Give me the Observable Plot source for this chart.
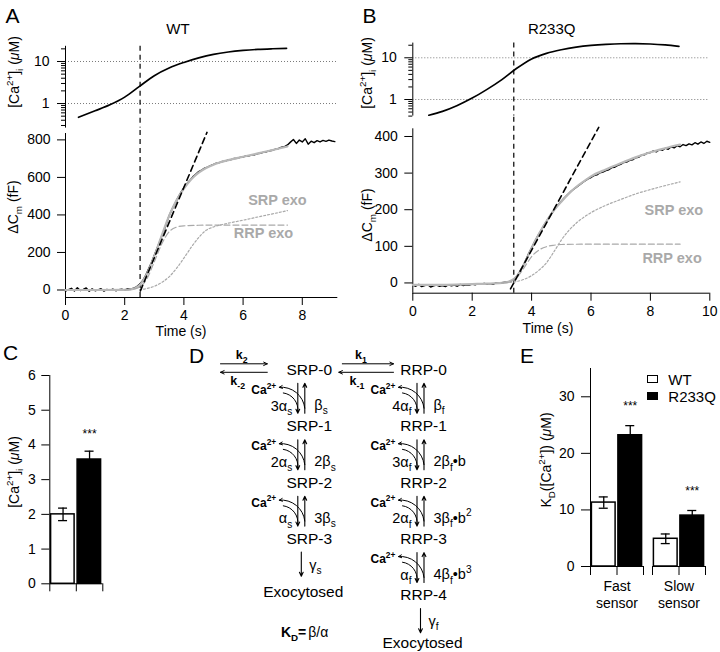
<!DOCTYPE html>
<html><head><meta charset="utf-8">
<script src="https://cdn.jsdelivr.net/npm/d3@7"></script>
<script src="https://cdn.jsdelivr.net/npm/@observablehq/plot@0.6"></script>
<style>
body{margin:0;background:#fff;}
#fig{position:relative;width:720px;height:652px;overflow:hidden;font-family:"Liberation Sans",Arial,Helvetica,sans-serif;color:#000;background:#fff;}
.layer{position:absolute;left:0;top:0;width:720px;height:652px;}
.lbl{position:absolute;white-space:nowrap;transform:translate(-50%,-50%);line-height:1;}
.rot{transform:translate(-50%,-50%) rotate(-90deg);}
.lbl sub,.lbl sup{font-size:70%;line-height:0;}
.sw{position:absolute;width:9px;height:6px;border:1px solid #000;}
</style></head><body><div id="fig"></div><script>
// ---------------- DATA ----------------
// Panel A (WT)
const caTimeA = [0.44, 1, 1.5, 2, 2.5, 3, 3.5, 4, 4.5, 5, 5.5, 6, 6.5, 7, 7.47];
const caA = [0.47, 0.67, 0.93, 1.42, 2.56, 4.6, 7.0, 9.5, 12.2, 14.8, 16.8, 18.3, 19.4, 20.1, 20.6];
const cmTimeA = d3.range(92).map(i => i / 10);
const cmA = [-6, 2, 9, -5, 12, -3, 3, 11, -7, 6,
 -4, 1, 7, -6, 3, -2, 5, -4, 2, 4,
 -1, 7, 4, 10, 17, 30, 48, 75, 110, 145,
 185, 225, 265, 305, 350, 395, 430, 460, 492, 520,
 545, 566, 584, 603, 617, 631, 639, 649, 655, 663,
 669, 676, 679, 685, 687, 693, 695, 701, 702, 707,
 709, 714, 715, 720, 721, 727, 729, 735, 737, 742,
 745, 751, 754, 761, 764, 773, 788, 802, 781, 799,
 789, 806, 777, 793, 785, 796, 789, 797, 792, 799,
 794, 791];
const fitTimeA = [0, 1, 2, 2.25, 2.5, 2.75, 3, 3.25, 3.5, 3.75, 4, 4.25, 4.5, 4.75, 5, 5.5, 6, 6.5, 7, 7.5];
const fitA = [0, 0, 1, 5, 25, 85, 180, 290, 395, 478, 540, 590, 625, 650, 668, 692, 710, 728, 746, 765];
const rrpTimeA = [2, 2.25, 2.5, 2.75, 3, 3.25, 3.5, 3.75, 4, 4.5, 5, 6, 7.5];
const rrpA = [0, 3, 15, 60, 150, 245, 310, 335, 342, 345, 346, 346, 346];
const srpTimeA = [2.5, 2.75, 3, 3.25, 3.5, 3.75, 4, 4.25, 4.5, 4.75, 5, 5.25, 5.5, 6, 6.5, 7, 7.5];
const srpA = [2, 8, 20, 40, 70, 115, 170, 228, 280, 318, 336, 347, 356, 372, 389, 406, 423];
const tanTimeA = [2.53, 4.78];
const tanA = [-5, 840];
const flashA = 2.52;
const notesA = [{label: "SRP exo", t: 7.16, v: 476}, {label: "RRP exo", t: 6.69, v: 302}];

// Panel B (R233Q)
const caTimeB = [0.54, 1, 1.5, 2, 2.5, 3, 3.5, 4, 4.5, 5, 5.5, 6, 6.5, 7, 7.5, 8, 8.5, 8.96];
const caB = [0.42, 0.52, 0.72, 1.08, 1.75, 3.0, 5.6, 9.4, 12.8, 15.6, 18.0, 19.8, 21.0, 21.7, 21.8, 21.4, 20.3, 18.8];
const cmTimeB = d3.range(101).map(i => i / 10);
const cmB = [-6, -9, -4, -10, -7, -5, -11, -8, -6, -9,
 -7, -10, -5, -8, -6, -9, -4, -7, -5, -6,
 -3, -5, -2, -4, -1, -3, -2, -4, 0, -1,
 1, 2, 3, 5, 10, 18, 30, 45, 62, 80,
 96, 112, 127, 141, 155, 168, 181, 193, 204, 214,
 223, 232, 240, 248, 255, 261, 267, 273, 279, 284,
 288, 293, 295, 301, 303, 307, 309, 315, 316, 321,
 324, 329, 330, 335, 336, 342, 343, 349, 350, 355,
 356, 361, 358, 364, 362, 368, 365, 372, 369, 375,
 372, 378, 375, 380, 377, 383, 379, 385, 381, 387,
 384];
const fitTimeB = [0, 1, 2, 2.5, 3, 3.25, 3.5, 3.75, 4, 4.25, 4.5, 4.75, 5, 5.25, 5.5, 5.75, 6, 6.5, 7, 7.5, 8, 8.5, 9];
const fitB = [-5, -5, -3, -2, 0, 4, 18, 52, 95, 134, 168, 198, 222, 244, 262, 277, 291, 310, 327, 343, 357, 368, 378];
const rrpTimeB = [3, 3.25, 3.5, 3.75, 4, 4.25, 4.5, 4.75, 5, 6, 7, 8, 9];
const rrpB = [0, 3, 15, 42, 72, 90, 99, 103, 105, 106, 106, 106, 106];
const srpTimeB = [3, 3.5, 3.75, 4, 4.25, 4.5, 4.75, 5, 5.25, 5.5, 5.75, 6, 6.5, 7, 7.5, 8, 8.5, 9];
const srpB = [0, 4, 10, 20, 35, 55, 85, 117, 143, 163, 179, 192, 212, 228, 243, 255, 266, 276];
const tanTimeB = [3.29, 6.26];
const tanB = [-16, 425];
const flashB = 3.40;
const notesB = [{label: "SRP exo", t: 8.79, v: 197}, {label: "RRP exo", t: 8.73, v: 68}];

// Panel C
const genotypes = ["WT", "R233Q"];
const caMean = [2.0, 3.58];
const caSem = [0.18, 0.24];
const caSig = ["", "***"];

// Panel E
const sensors = ["Fast sensor", "Slow sensor"];
const kdWT = [11.3, 4.9];
const kdWTsem = [1.0, 0.85];
const kdR233Q = [23.2, 9.0];
const kdR233Qsem = [1.7, 0.9];
const kdSig = ["***", "***"];

// Panel D (kinetic scheme)
const srpStates = ["SRP-0", "SRP-1", "SRP-2", "SRP-3"];
const rrpStates = ["RRP-0", "RRP-1", "RRP-2", "RRP-3", "RRP-4"];
const srpOn = ["3α_{s}", "2α_{s}", "α_{s}"];
const srpOff = ["β_{s}", "2β_{s}", "3β_{s}"];
const rrpOn = ["4α_{f}", "3α_{f}", "2α_{f}", "α_{f}"];
const rrpOff = ["β_{f}", "2β_{f}•b", "3β_{f}•b^{2}", "4β_{f}•b^{3}"];
const fusionRates = ["γ_{s}", "γ_{f}"];
const exchanges = [{from: -1, to: 0, fwd: "k_{2}", rev: "k_{-2}"}, {from: 0, to: 1, fwd: "k_{1}", rev: "k_{-1}"}];
const kdParts = ["K_{D}=", "β/α"];

// ---------------- HELPERS ----------------
const FONT = '"Liberation Sans", Arial, Helvetica, sans-serif';
const W = 720, H = 652;
const fig = document.getElementById("fig");
const baseStyle = {background: "transparent", overflow: "visible", fontFamily: FONT, fontSize: "14px", color: "black"};
const zip = (t, v) => t.map((x, i) => ({t: x, v: v[i]}));

function richify(root) {
  root.querySelectorAll("text, tspan").forEach(t => {
    if (t.children.length) return;
    const s = t.textContent;
    if (!/[_^]\{/.test(s)) return;
    const fs = parseFloat(getComputedStyle(t).fontSize) || 14;
    const parts = [];
    const re = /([_^])\{([^}]*)\}/g;
    let last = 0, m;
    while ((m = re.exec(s))) {
      if (m.index > last) parts.push({t: s.slice(last, m.index), m: ""});
      parts.push({t: m[2], m: m[1]});
      last = re.lastIndex;
    }
    if (last < s.length) parts.push({t: s.slice(last), m: ""});
    t.textContent = "";
    let shift = 0;
    for (const p of parts) {
      const ts = document.createElementNS("http://www.w3.org/2000/svg", "tspan");
      const target = p.m === "_" ? 0.3 * fs : p.m === "^" ? -0.45 * fs : 0;
      const dy = target - shift; shift = target;
      if (dy) ts.setAttribute("dy", dy);
      if (p.m) ts.setAttribute("font-size", 0.7 * fs);
      ts.textContent = p.t;
      t.appendChild(ts);
    }
  });
}
function place(svg) {
  const d = document.createElement("div");
  d.className = "layer";
  d.appendChild(svg);
  fig.appendChild(d);
  richify(svg);
}
function label(html, cx, cy, opts = {}) {
  const d = document.createElement("div");
  d.className = "lbl" + (opts.rot ? " rot" : "");
  d.style.left = cx + "px"; d.style.top = cy + "px";
  d.style.fontSize = (opts.size || 14) + "px";
  if (opts.weight) d.style.fontWeight = opts.weight;
  if (opts.color) d.style.color = opts.color;
  d.innerHTML = html;
  fig.appendChild(d);
}

// ---------------- PANELS A & B ----------------
function tracePanels(c) {
  const ca = Plot.plot({
    width: W, height: H, marginLeft: c.left, marginRight: W - c.right,
    marginTop: c.caTop, marginBottom: H - c.caBottom, style: baseStyle,
    x: {domain: c.xDomain, axis: null, label: null},
    y: {type: "log", domain: c.caDomain, label: null},
    marks: [
      Plot.ruleY(c.caMajor, {stroke: "#7a7a7a", strokeDasharray: "1,2"}),
      Plot.ruleX([c.xDomain[0]], {stroke: "black"}),
      Plot.axisY({ticks: c.caMinor, tickSize: 4, tickFormat: () => "", label: null}),
      Plot.axisY({ticks: c.caMajor, tickSize: 8, tickPadding: 8, tickFormat: d => String(d), label: null}),
      Plot.ruleX([c.flash], {stroke: "black", strokeWidth: 1.2, strokeDasharray: "5,4"}),
      Plot.line(zip(c.caT, c.caV), {x: "t", y: "v", curve: "monotone-x", stroke: "black", strokeWidth: 1.7})
    ]
  });
  place(ca);
  const cm = Plot.plot({
    width: W, height: H, marginLeft: c.left, marginRight: W - c.right,
    marginTop: c.cmTop, marginBottom: H - c.cmBottom, style: baseStyle,
    x: {domain: c.xDomain, label: null},
    y: {domain: c.cmDomain, label: null},
    marks: [
      Plot.ruleX([c.xDomain[0]], {stroke: "black"}),
      Plot.ruleY([c.cmDomain[0]], {stroke: "black"}),
      Plot.axisX({ticks: c.xTicks, tickSize: 8, tickPadding: 5, label: null}),
      Plot.axisY({ticks: c.cmTicks, tickSize: 8, tickPadding: 7, label: null}),
      Plot.ruleX([c.flash], {y1: c.cmDomain[0], y2: c.cmDomain[1] + c.rulePad, stroke: "black", strokeWidth: 1.2, strokeDasharray: "5,4"}),
      Plot.line(zip(c.cmT, c.cmV), {x: "t", y: "v", stroke: "black", strokeWidth: 1.4}),
      Plot.line(zip(c.fitT, c.fitV), {x: "t", y: "v", curve: "monotone-x", stroke: "#b8b8b8", strokeWidth: 2.2}),
      Plot.line(zip(c.rrpT, c.rrpV), {x: "t", y: "v", curve: "monotone-x", stroke: "#a9a9a9", strokeWidth: 1.2, strokeDasharray: "6,3"}),
      Plot.line(zip(c.srpT, c.srpV), {x: "t", y: "v", curve: "monotone-x", stroke: "#a9a9a9", strokeWidth: 1.2, strokeDasharray: "2,2"}),
      Plot.line(zip(c.tanT, c.tanV), {x: "t", y: "v", stroke: "black", strokeWidth: 1.6, strokeDasharray: "6,4"}),
      Plot.text(c.notes, {x: "t", y: "v", text: "label", fill: "#a9a9a9", fontWeight: "bold", fontSize: 14.5})
    ]
  });
  place(cm);
}

tracePanels({
  left: 65, right: 337.3, xDomain: [0, 9.2], xTicks: [0, 2, 4, 6, 8],
  caTop: 45.8, caBottom: 127.6, caDomain: [0.26, 23], caMajor: [1, 10],
  caMinor: [0.3, 0.4, 0.5, 0.6, 0.7, 0.8, 0.9, 2, 3, 4, 5, 6, 7, 8, 9, 20],
  cmTop: 133, cmBottom: 297, cmDomain: [-40, 834], cmTicks: [0, 200, 400, 600, 800], rulePad: 28,
  flash: flashA, caT: caTimeA, caV: caA, cmT: cmTimeA, cmV: cmA, fitT: fitTimeA, fitV: fitA,
  rrpT: rrpTimeA, rrpV: rrpA, srpT: srpTimeA, srpV: srpA, tanT: tanTimeA, tanV: tanA, notes: notesA
});
tracePanels({
  left: 412.3, right: 709.3, xDomain: [0, 10], xTicks: [0, 2, 4, 6, 8, 10],
  caTop: 42.6, caBottom: 115.6, caDomain: [0.4, 22.5], caMajor: [1, 10],
  caMinor: [0.4, 0.5, 0.6, 0.7, 0.8, 0.9, 2, 3, 4, 5, 6, 7, 8, 9, 20],
  cmTop: 128.3, cmBottom: 292.7, cmDomain: [-28, 421], cmTicks: [0, 100, 200, 300, 400], rulePad: 36,
  flash: flashB, caT: caTimeB, caV: caB, cmT: cmTimeB, cmV: cmB, fitT: fitTimeB, fitV: fitB,
  rrpT: rrpTimeB, rrpV: rrpB, srpT: srpTimeB, srpV: srpB, tanT: tanTimeB, tanV: tanB, notes: notesB
});

// ---------------- PANEL C ----------------
const barsC = genotypes.map((g, i) => ({g, i, m: caMean[i], s: caSem[i], sig: caSig[i]}));
place(Plot.plot({
  width: W, height: H, marginLeft: 49.3, marginRight: W - 102.3, marginTop: 375, marginBottom: H - 583.3,
  style: baseStyle,
  x: {domain: [0, 2], label: null},
  y: {domain: [0, 6], label: null},
  color: {domain: genotypes, range: ["white", "black"]},
  marks: [
    Plot.rect(barsC, {x1: "i", x2: d => d.i + 1, y1: 0, y2: "m", fill: "g", stroke: "black", strokeWidth: 1.5, insetLeft: 1.3, insetRight: 1.7}),
    Plot.ruleX(barsC, {x: d => d.i + 0.5, y1: d => d.m - d.s, y2: d => d.m + d.s, stroke: "black", strokeWidth: 1.3}),
    Plot.ruleY(barsC, {y: d => d.m + d.s, x1: d => d.i + 0.5 - 0.17, x2: d => d.i + 0.5 + 0.17, stroke: "black", strokeWidth: 1.3}),
    Plot.ruleY(barsC, {y: d => d.m - d.s, x1: d => d.i + 0.5 - 0.17, x2: d => d.i + 0.5 + 0.17, stroke: "black", strokeWidth: 1.3}),
    Plot.text(barsC, {x: d => d.i + 0.5, y: d => d.m + d.s, dy: -17, text: "sig", fontSize: 12}),
    Plot.ruleX([0], {stroke: "black"}),
    Plot.ruleY([0], {stroke: "black"}),
    Plot.axisX({ticks: [0, 1, 2], tickSize: 8, tickFormat: () => "", label: null}),
    Plot.axisY({ticks: [0, 1, 2, 3, 4, 5, 6], tickSize: 8, tickPadding: 6, tickFormat: d => String(d), label: null})
  ]
}));

// ---------------- PANEL E ----------------
const barsE = [];
sensors.forEach((s, j) => {
  barsE.push({s, g: "WT", i: 0, m: kdWT[j], e: kdWTsem[j], sig: ""});
  barsE.push({s, g: "R233Q", i: 1, m: kdR233Q[j], e: kdR233Qsem[j], sig: kdSig[j]});
});
place(Plot.plot({
  width: W, height: H, marginLeft: 589.3, marginRight: W - 705.7, marginTop: 368, marginBottom: H - 566,
  style: baseStyle,
  fx: {domain: sensors, paddingInner: 0.144, paddingOuter: 0, axis: null, label: null},
  x: {domain: [0, 2], label: null},
  y: {domain: [0, 35], label: null},
  color: {domain: genotypes, range: ["white", "black"]},
  marks: [
    Plot.rect(barsE, {fx: "s", x1: "i", x2: d => d.i + 1, y1: 0, y2: "m", fill: "g", stroke: "black", strokeWidth: 1.5, insetLeft: 1.4, insetRight: 1.4}),
    Plot.ruleX(barsE, {fx: "s", x: d => d.i + 0.5, y1: d => d.m - d.e, y2: d => d.m + d.e, stroke: "black", strokeWidth: 1.3}),
    Plot.ruleY(barsE, {fx: "s", y: d => d.m + d.e, x1: d => d.i + 0.5 - 0.17, x2: d => d.i + 0.5 + 0.17, stroke: "black", strokeWidth: 1.3}),
    Plot.ruleY(barsE, {fx: "s", y: d => d.m - d.e, x1: d => d.i + 0.5 - 0.17, x2: d => d.i + 0.5 + 0.17, stroke: "black", strokeWidth: 1.3}),
    Plot.text(barsE, {fx: "s", x: d => d.i + 0.5, y: d => d.m + d.e, dy: -19, text: "sig", fontSize: 12}),
    Plot.ruleY([0], {stroke: "black"}),
    Plot.ruleX([0], {fx: () => sensors[0], x: d => d, stroke: "black"}),
    Plot.axisX({ticks: [0, 1, 2], tickSize: 9, tickFormat: () => "", label: null}),
    Plot.axisY({ticks: [0, 10, 20, 30], tickSize: 9, tickPadding: 7, label: null}),
    Plot.text(sensors, {fx: d => d, frameAnchor: "bottom", text: d => d.split(" ")[0], dy: 24.5, fontSize: 14}),
    Plot.text(sensors, {fx: d => d, frameAnchor: "bottom", text: d => d.split(" ")[1], dy: 41.5, fontSize: 14})
  ]
}));

// ---------------- PANEL D ----------------
const dX = [300.8, 420], dY = [369.3, 595];
const PX = 1 / (dX[1] - dX[0]);
const nodes = [
  ...srpStates.map((name, row) => ({name, col: 0, row})),
  ...rrpStates.map((name, row) => ({name, col: 1, row}))
];
const steps = [
  ...srpOn.map((a, row) => ({col: 0, row, on: a, off: srpOff[row]})),
  ...rrpOn.map((a, row) => ({col: 1, row, on: a, off: rrpOff[row]}))
];
const exo = [
  {col: 0, row: srpStates.length, g: fusionRates[0]},
  {col: 1, row: rrpStates.length, g: fusionRates[1]}
];
const dFont = 15.5;
place(Plot.plot({
  width: W, height: H, margin: 0, style: baseStyle,
  x: {domain: [0, 1], range: dX, axis: null},
  y: {domain: [0, 4], range: dY, axis: null},
  marks: [
    Plot.text(nodes.filter(d => d.col === 0), {x: "col", y: "row", text: "name", dx: 8, fontSize: dFont}),
    Plot.text(nodes.filter(d => d.col === 1), {x: "col", y: "row", text: "name", dx: 3, fontSize: dFont}),
    Plot.text(exo.slice(0, 1), {x: "col", y: "row", text: () => "Exocytosed", dx: 2, dy: -3, fontSize: dFont}),
    Plot.text(exo.slice(1, 2), {x: "col", y: "row", text: () => "Exocytosed", dx: 2, dy: -8.5, fontSize: dFont}),
    // binding / unbinding vertical arrows
    Plot.arrow(steps, {x1: d => d.col - 3.5 * PX, x2: d => d.col - 3.5 * PX, y1: d => d.row + 0.24, y2: d => d.row + 0.77, headLength: 6, headAngle: 50, strokeWidth: 1.1}),
    Plot.arrow(steps, {x1: d => d.col + 3.5 * PX, x2: d => d.col + 3.5 * PX, y1: d => d.row + 0.77, y2: d => d.row + 0.24, headLength: 6, headAngle: 50, strokeWidth: 1.1}),
    // curved Ca arrows
    Plot.arrow(steps, {x1: d => d.col + 3.5 * PX, y1: d => d.row + 0.68, x2: d => d.col - 22 * PX, y2: d => d.row + 0.31, bend: -45, headLength: 5, headAngle: 50, strokeWidth: 1}),
    Plot.arrow(steps, {x1: d => d.col - 18 * PX, y1: d => d.row + 0.41, x2: d => d.col - 3.5 * PX, y2: d => d.row + 0.74, bend: 45, headLength: 0, strokeWidth: 1}),
    Plot.text(steps, {x: "col", y: d => d.row + 0.36, dx: -50, text: () => "Ca^{2+}", textAnchor: "start", fontWeight: "bold", fontSize: 12}),
    Plot.text(steps, {x: "col", y: d => d.row + 0.64, dx: -9, text: "on", textAnchor: "end", fontSize: 14.5}),
    Plot.text(steps, {x: "col", y: d => d.row + 0.63, dx: 13, text: "off", textAnchor: "start", fontSize: 14.5}),
    // fusion
    Plot.arrow(exo, {x1: "col", x2: "col", y1: d => d.row - 1 + 0.23, y2: d => d.row - 1 + 0.66, headLength: 6, headAngle: 50, strokeWidth: 1.1}),
    Plot.text(exo, {x: "col", y: d => d.row - 1 + 0.46, dx: 8, text: "g", textAnchor: "start", fontSize: 14.5}),
    // pool exchanges
    Plot.arrow(exchanges.slice(0, 1), {x1: "from", x2: "to", y1: 0, y2: 0, dy: -6, insetStart: 38.4, insetEnd: 34, headLength: 6, headAngle: 50, strokeWidth: 1}),
    Plot.arrow(exchanges.slice(0, 1), {x1: "to", x2: "from", y1: 0, y2: 0, dy: 2.5, insetStart: 34, insetEnd: 38.4, headLength: 6, headAngle: 50, strokeWidth: 1}),
    Plot.arrow(exchanges.slice(1, 2), {x1: "from", x2: "to", y1: 0, y2: 0, dy: -6, insetStart: 41, insetEnd: 27, headLength: 6, headAngle: 50, strokeWidth: 1}),
    Plot.arrow(exchanges.slice(1, 2), {x1: "to", x2: "from", y1: 0, y2: 0, dy: 2.5, insetStart: 27, insetEnd: 37.5, headLength: 6, headAngle: 50, strokeWidth: 1}),
    Plot.text(exchanges, {x: d => (d.from + d.to) / 2, y: 0, dy: -15, text: "fwd", fontWeight: "bold", fontSize: 12.5}),
    Plot.text(exchanges, {x: d => (d.from + d.to) / 2, y: 0, dy: 11, dx: -4, text: "rev", fontWeight: "bold", fontSize: 12.5}),
    // KD definition
    Plot.text([kdParts[0]], {x: 0, y: 4.65, dx: 5, text: d => d, textAnchor: "end", fontWeight: "bold", fontSize: 14}),
    Plot.text([kdParts[1]], {x: 0, y: 4.65, dx: 7, text: d => d, textAnchor: "start", fontSize: 14})
  ]
}));

// ---------------- LABELS (HTML) ----------------
label("A", 12.5, 14.5, {size: 21});
label("B", 369.5, 14.5, {size: 21});
label("C", 10.5, 352, {size: 21});
label("D", 196.5, 355, {size: 21});
label("E", 527, 355, {size: 21});
label("WT", 178, 28, {size: 15});
label("R233Q", 551.7, 28, {size: 15});
label("Time (s)", 181, 331, {size: 14});
label("Time (s)", 548, 328, {size: 14});
label("[Ca<sup>2+</sup>]<sub>i</sub> (<i>μ</i>M)", 13.5, 72, {rot: true, size: 14});
label("ΔC<sub>m</sub> (fF)", 13, 207, {rot: true, size: 14});
label("[Ca<sup>2+</sup>]<sub>i</sub> (<i>μ</i>M)", 367, 73, {rot: true, size: 14});
label("ΔC<sub>m</sub> (fF)", 367, 215, {rot: true, size: 14});
label("[Ca<sup>2+</sup>]<sub>i</sub> (<i>μ</i>M)", 13.5, 472, {rot: true, size: 14});
label("K<sub>D</sub>([Ca<sup>2+</sup>]) (<i>μ</i>M)", 546, 460, {rot: true, size: 14});

// legend for E
genotypes.forEach((g, i) => {
  const sw = document.createElement("div");
  sw.className = "sw";
  sw.style.left = "646.5px"; sw.style.top = (375 + i * 17) + "px";
  sw.style.background = i === 0 ? "white" : "black";
  fig.appendChild(sw);
  const t = document.createElement("div");
  t.className = "lbl";
  t.style.transform = "translate(0,-50%)";
  t.style.left = "668.3px"; t.style.top = (379 + i * 17) + "px";
  t.style.fontSize = "15px";
  t.textContent = g;
  fig.appendChild(t);
});
</script></body></html>
